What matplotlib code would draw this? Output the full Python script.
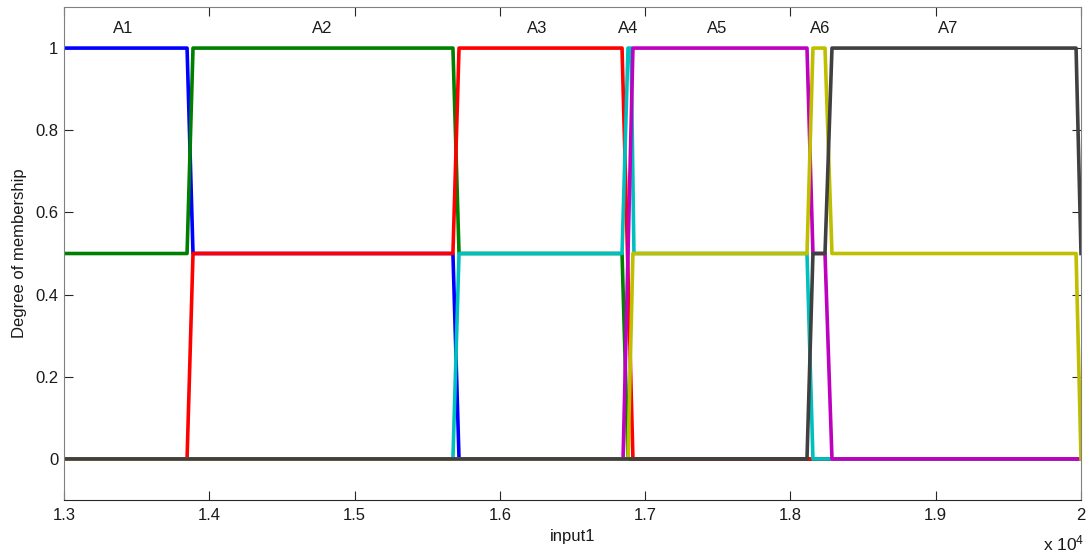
import matplotlib
matplotlib.use('Agg')
import matplotlib.pyplot as plt
from matplotlib.ticker import FuncFormatter

plt.rcParams['font.family'] = ['Liberation Sans', 'DejaVu Sans']
plt.rcParams['mathtext.default'] = 'regular'

# membership functions, breakpoints
x_a1 = [13000, 13847, 13888, 15677, 15719, 20000]
y_a1 = [1, 1, 0.5, 0.5, 0, 0]
x_a2 = [13000, 13847, 13888, 15677, 15719, 16841, 16882, 20000]
y_a2 = [0.5, 0.5, 1, 1, 0.5, 0.5, 0, 0]
x_a3 = [13000, 13847, 13888, 15677, 15719, 16841, 16916, 20000]
y_a3 = [0, 0, 0.5, 0.5, 1, 1, 0, 0]
x_a4 = [13000, 15677, 15719, 16841, 16882, 16903, 16923, 18114, 18155, 20000]
y_a4 = [0, 0, 0.5, 0.5, 1, 1, 0.5, 0.5, 0, 0]
x_a5 = [13000, 16848, 16916, 18114, 18155, 18238, 18286, 20000]
y_a5 = [0, 0, 1, 1, 0.5, 0.5, 0, 0]
x_a6 = [13000, 16882, 16916, 18114, 18155, 18238, 18286, 19966, 20000]
y_a6 = [0, 0, 0.5, 0.5, 1, 1, 0.5, 0.5, 0]
x_a7 = [13000, 18114, 18155, 18238, 18286, 19966, 20000]
y_a7 = [0, 0, 0.5, 0.5, 1, 1, 0.5]

names = ['A1', 'A2', 'A3', 'A4', 'A5', 'A6', 'A7']
label_x = [13406, 14776, 16256, 16882, 17495, 18204, 19085]
label_y = 1.047

xs = [x_a1, x_a2, x_a3, x_a4, x_a5, x_a6, x_a7]
ys = [y_a1, y_a2, y_a3, y_a4, y_a5, y_a6, y_a7]
colors = ['#0000ff', '#008000', '#ff0000', '#00bfbf', '#bf00bf', '#bfbf00', '#404040']

fig = plt.figure(figsize=(10.88, 5.53), dpi=100)
ax = fig.add_axes([64/1088, 1 - 500/553, 1017/1088, 493/553])

for x, y, c in zip(xs, ys, colors):
    ax.plot(x, y, color=c, lw=2.6)

for n, lx in zip(names, label_x):
    ax.text(lx, label_y, n, ha='center', va='center', fontsize=12, color='#1a1a1a')

ax.set_xlim(13000, 20000)
ax.set_ylim(-0.1, 1.1)
ax.set_xticks(range(13000, 20001, 1000))
ax.set_yticks([0, 0.2, 0.4, 0.6, 0.8, 1])
ax.xaxis.set_major_formatter(FuncFormatter(lambda v, p: f'{v/1e4:g}'))
ax.yaxis.set_major_formatter(FuncFormatter(lambda v, p: f'{v:g}'))
ax.tick_params(direction='in', length=6.5, width=0.8, labelsize=12,
               top=True, right=True, colors='#262626', labelcolor='#1a1a1a')
ax.tick_params(axis='x', pad=6)
ax.tick_params(axis='y', pad=4)
for t in ax.xaxis.get_major_ticks():
    t.tick2line.set_color('#808080')

for s in ['left', 'top', 'right']:
    ax.spines[s].set_color('#808080')
ax.spines['bottom'].set_color('#262626')

ax.set_xlabel('input1', fontsize=12, color='#1a1a1a', labelpad=4)
ax.set_ylabel('Degree of membership', fontsize=12, color='#1a1a1a', labelpad=6)
fig.text(1084/1088, 1 - 543/553, r'x 10$^{4}$', ha='right', va='center', fontsize=12.5, color='#1a1a1a')

fig.savefig('out.png', dpi=100)
